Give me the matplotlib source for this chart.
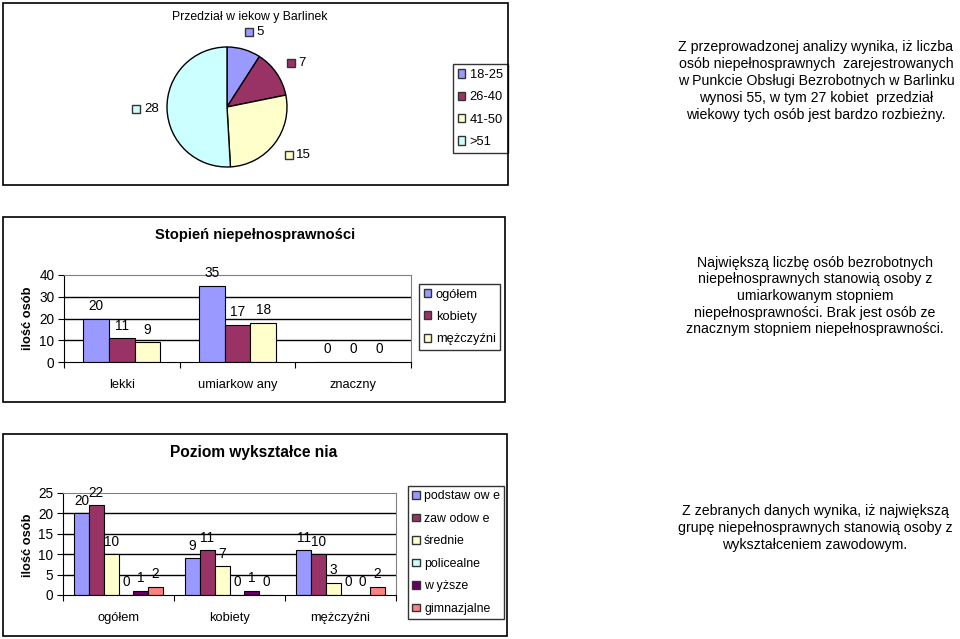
import matplotlib
matplotlib.use("Agg")
import matplotlib.pyplot as plt
import numpy as np
from matplotlib.patches import Rectangle, Patch

plt.rcParams['font.family'] = ['Liberation Sans', 'DejaVu Sans']

W, H = 960, 639

# --- dane: wykres kołowy ---
age_groups = ['18-25', '26-40', '41-50', '>51']
age_counts = [5, 7, 15, 28]
age_colors = ['#9999FF', '#993366', '#FFFFCC', '#CCFFFF']

# --- dane: stopień niepełnosprawności ---
deg_categories = ['lekki', 'umiarkow any', 'znaczny']
deg_series = ['ogółem', 'kobiety', 'mężczyźni']
deg_total = [20, 35, 0]
deg_women = [11, 17, 0]
deg_men = [9, 18, 0]
deg_colors = ['#9999FF', '#993366', '#FFFFCC']

# --- dane: poziom wykształcenia ---
edu_categories = ['ogółem', 'kobiety', 'mężczyźni']
edu_series = ['podstaw ow e', 'zaw odow e', 'średnie', 'policealne', 'w yższe', 'gimnazjalne']
edu_basic = [20, 9, 11]
edu_vocational = [22, 11, 10]
edu_secondary = [10, 7, 3]
edu_postsec = [0, 0, 0]
edu_higher = [1, 1, 0]
edu_gymnasium = [2, 0, 2]
edu_colors = ['#9999FF', '#993366', '#FFFFCC', '#CCFFFF', '#660066', '#FF8080']


def rect(x0, y0, x1, y1):
    """Piksele (od góry) -> współrzędne figury."""
    return [x0 / W, 1 - y1 / H, (x1 - x0) / W, (y1 - y0) / H]


fig = plt.figure(figsize=(W / 100, H / 100), dpi=100)
fig.patch.set_facecolor('white')

# ramki wykresów
for x0, y0, x1, y1 in [(3, 3, 508, 185), (3, 217, 505, 402), (3, 434, 507, 636)]:
    fig.patches.append(Rectangle((x0 / W, 1 - y1 / H), (x1 - x0) / W, (y1 - y0) / H,
                                 transform=fig.transFigure, fill=False,
                                 edgecolor='black', linewidth=1.2))

leg_kw = dict(bbox_transform=fig.transFigure, frameon=True, fancybox=False,
              edgecolor='black', handlelength=0.6, handleheight=0.6, handletextpad=0.35,
              borderpad=0.35, borderaxespad=0)

# ============================================================
# Wykres kołowy
# ============================================================
ax1 = fig.add_axes(rect(167, 47, 287, 167))
wedges, _ = ax1.pie(age_counts, colors=age_colors, startangle=90, counterclock=False,
                    wedgeprops=dict(edgecolor='black', linewidth=1))
ax1.set_xlim(-1, 1)
ax1.set_ylim(-1, 1)
ax1.set_aspect('equal')
ax1.axis('off')
for w, val, col in zip(wedges, age_counts, age_colors):
    ang = np.deg2rad((w.theta1 + w.theta2) / 2)
    x, y = 1.3 * np.cos(ang), 1.3 * np.sin(ang)
    if x >= 0:
        ax1.plot(x, y, marker='s', markersize=6, color=col,
                 markeredgecolor='#333333', clip_on=False)
        ax1.annotate(str(val), (x, y), xytext=(5, 0), textcoords='offset points',
                     va='center', ha='left', fontsize=9.5, annotation_clip=False)
    else:
        ax1.annotate(str(val), (x - 0.08, y), xytext=(0, 0), textcoords='offset points',
                     va='center', ha='left', fontsize=9.5, annotation_clip=False)
        ax1.plot(x - 0.22, y, marker='s', markersize=6, color=col,
                 markeredgecolor='#333333', clip_on=False)

fig.text(250 / W, 1 - 17 / H, 'Przedział w iekow y Barlinek', ha='center', va='center',
         fontsize=8.8)
ax1.legend([Patch(facecolor=c, edgecolor='#333333') for c in age_colors], age_groups,
           loc='center left', bbox_to_anchor=(453 / W, 1 - 108.5 / H),
           fontsize=9.3, labelspacing=0.8, **leg_kw)


def style_bar_axes(ax, ymax, step, ncat):
    ax.set_xlim(-0.5, ncat - 0.5)
    ax.set_ylim(0, ymax)
    ax.set_yticks(np.arange(0, ymax + 1, step))
    for v in np.arange(step, ymax, step):
        ax.axhline(v, color='black', linewidth=1, zorder=0)
    ax.spines['top'].set_color('#808080')
    ax.spines['right'].set_color('#808080')
    ax.spines['left'].set_color('black')
    ax.spines['bottom'].set_color('black')
    ax.set_xticks(np.arange(-0.5, ncat, 1.0), minor=False)
    ax.set_xticklabels([])
    ax.tick_params(axis='x', which='major', direction='out', length=4, color='black')
    ax.tick_params(axis='y', direction='out', length=4, labelsize=9.8, pad=3)


def draw_bars(ax, series_values, colors, categories):
    n = len(series_values)
    w = 1 / (n + 1.5)
    x = np.arange(len(categories))
    for i, (vals, col) in enumerate(zip(series_values, colors)):
        pos = x + (i - (n - 1) / 2) * w
        ax.bar(pos, vals, width=w, color=col, edgecolor='black', linewidth=0.8, zorder=2)
        for p, v in zip(pos, vals):
            ax.annotate(str(v), (p, v), xytext=(0, 4), textcoords='offset points',
                        ha='center', va='bottom', fontsize=9.8, annotation_clip=False)
    ax.set_xticks(x, minor=True)
    ax.set_xticklabels(categories, minor=True)
    ax.tick_params(axis='x', which='minor', length=0, pad=12, labelsize=9.3)


# ============================================================
# Stopień niepełnosprawności
# ============================================================
ax2 = fig.add_axes(rect(64, 275, 411, 362))
draw_bars(ax2, [deg_total, deg_women, deg_men], deg_colors, deg_categories)
style_bar_axes(ax2, 40, 10, len(deg_categories))
fig.text(255 / W, 1 - 235 / H, 'Stopień niepełnosprawności', ha='center', va='center',
         fontsize=10.6, fontweight='bold')
fig.text(28 / W, 1 - 318 / H, 'ilość osób', rotation=90, ha='center', va='center',
         fontsize=9.3, fontweight='bold')
ax2.legend([Patch(facecolor=c, edgecolor='#333333') for c in deg_colors], deg_series,
           loc='upper left', bbox_to_anchor=(419 / W, 1 - 284 / H),
           fontsize=9.3, labelspacing=0.8, **leg_kw)

# ============================================================
# Poziom wykształcenia
# ============================================================
ax3 = fig.add_axes(rect(63, 493, 396, 595))
draw_bars(ax3, [edu_basic, edu_vocational, edu_secondary, edu_postsec, edu_higher,
                edu_gymnasium], edu_colors, edu_categories)
style_bar_axes(ax3, 25, 5, len(edu_categories))
fig.text(254 / W, 1 - 453 / H, 'Poziom wykształce nia', ha='center', va='center',
         fontsize=11.2, fontweight='bold')
fig.text(28 / W, 1 - 545 / H, 'ilość osób', rotation=90, ha='center', va='center',
         fontsize=9.3, fontweight='bold')
ax3.legend([Patch(facecolor=c, edgecolor='#333333') for c in edu_colors], edu_series,
           loc='upper left', bbox_to_anchor=(408 / W, 1 - 486 / H),
           fontsize=8.9, labelspacing=0.85, **leg_kw)

# ============================================================
# Teksty opisowe
# ============================================================
txt_kw = dict(ha='center', va='center', fontsize=10.2, linespacing=1.25)
fig.text(816 / W, 1 - 81 / H,
         'Z przeprowadzonej analizy wynika, iż liczba\n'
         'osób niepełnosprawnych  zarejestrowanych\n'
         'w Punkcie Obsługi Bezrobotnych w Barlinku\n'
         'wynosi 55, w tym 27 kobiet  przedział\n'
         'wiekowy tych osób jest bardzo rozbieżny.', **txt_kw)
fig.text(815 / W, 1 - 296 / H,
         'Największą liczbę osób bezrobotnych\n'
         'niepełnosprawnych stanowią osoby z\n'
         'umiarkowanym stopniem\n'
         'niepełnosprawności. Brak jest osób ze\n'
         'znacznym stopniem niepełnosprawności.', **txt_kw)
fig.text(815 / W, 1 - 528 / H,
         'Z zebranych danych wynika, iż największą\n'
         'grupę niepełnosprawnych stanowią osoby z\n'
         'wykształceniem zawodowym.', **txt_kw)

fig.savefig('out.png', dpi=100, facecolor='white')
